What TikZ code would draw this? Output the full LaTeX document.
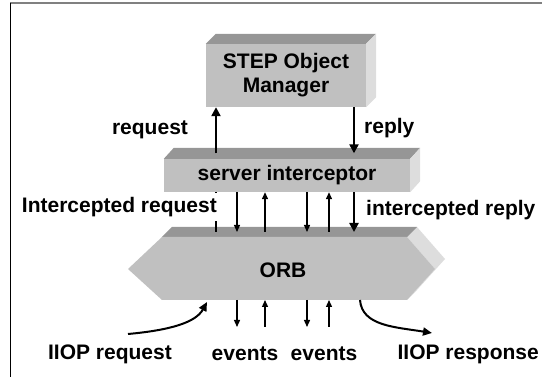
\documentclass[tikz,border=0pt]{standalone}
\usepackage{fontspec}
\setmainfont{Liberation Sans}
\usetikzlibrary{arrows.meta,calc}
\definecolor{faceF}{RGB}{192,192,192}
\definecolor{faceT}{RGB}{150,150,150}
\definecolor{faceS}{RGB}{221,221,221}
\definecolor{rulegray}{RGB}{128,128,128}
\tikzset{
  txt/.style={font=\bfseries\fontsize{21}{24}\selectfont},
  front/.style={txt, fill=faceF, draw=none, inner sep=0pt, align=center},
  lbl/.style={txt, inner sep=0pt},
  bigarrow/.style={line width=2.4pt, -{Triangle[length=9pt,width=9pt]}},
  thinarrow/.style={line width=1.3pt, -{Triangle[length=7pt,width=6pt]}},
  curvearrow/.style={line width=2pt, -{Triangle[length=9pt,width=8pt]}},
}
\begin{document}
\begin{tikzpicture}[x=1pt,y=-1pt]
\useasboundingbox (0,0) rectangle (542,377);

% frame lines
\draw[rulegray, line width=2pt] (10,3.5) -- (542,3.5);
\draw[black, line width=1pt] (10.5,3) -- (10.5,377);

% STEP Object Manager block
\node[front, minimum width=160pt, minimum height=63pt] (step) at (286,75.5) {STEP Object\\Manager};
\fill[faceT] (step.north west) -- ++(10,-10) -- ($(step.north east)+(10,-10)$) -- (step.north east) -- cycle;
\fill[faceS] (step.north east) -- ++(10,-10) -- ($(step.south east)+(10,-10)$) -- (step.south east) -- cycle;

% server interceptor block
\node[front, minimum width=246pt, minimum height=33pt] (srv) at (287,175.5) {server interceptor};
\fill[faceT] (srv.north west) -- ++(10,-11) -- ($(srv.north east)+(10,-11)$) -- (srv.north east) -- cycle;
\fill[faceS] (srv.north east) -- ++(10,-11) -- ($(srv.south east)+(10,-11)$) -- (srv.south east) -- cycle;

% ORB hexagonal block
\coordinate (oL)  at (128,269);
\coordinate (oTL) at (162,237);
\coordinate (oTR) at (407,237);
\coordinate (oR)  at (435,269);
\coordinate (oBR) at (407,300);
\coordinate (oBL) at (162,300);
\fill[faceS] (oTR) -- ++(10,-10) -- ($(oR)+(10,-10)$) -- ($(oBR)+(10,-10)$) -- (oBR) -- (oR) -- cycle;
\fill[faceT] (oTL) -- ++(10,-10) -- ($(oTR)+(10,-10)$) -- (oTR) -- cycle;
\fill[faceF] (oL) -- (oTL) -- (oTR) -- (oR) -- (oBR) -- (oBL) -- cycle;
\node[lbl] (orb) at (283,270) {ORB};

% reference levels and arrow columns
\coordinate (srvtop) at ($(srv.north)+(0,-5.5)$);
\coordinate (orbtop) at ($(oTL)+(0,-5)$);
\coordinate (evlo) at (0,327);
\coordinate (xa) at (216,0);
\coordinate (xb) at (237,0);
\coordinate (xc) at (265,0);
\coordinate (xd) at (307,0);
\coordinate (xe) at (329,0);
\coordinate (xf) at (354,0);

% STEP <-> server interceptor
\draw[bigarrow] (srvtop -| xa) -- (step.south -| xa);
\draw[bigarrow] (step.south -| xf) -- (srvtop -| xf);

% server interceptor <-> ORB
\draw[line width=2.4pt] (orbtop -| xa) -- (srv.south -| xa);
\draw[thinarrow] (srv.south -| xb) -- (orbtop -| xb);
\draw[thinarrow] (orbtop -| xc) -- (srv.south -| xc);
\draw[thinarrow] (srv.south -| xd) -- (orbtop -| xd);
\draw[thinarrow] (orbtop -| xe) -- (srv.south -| xe);
\draw[bigarrow] (srv.south -| xf) -- (orbtop -| xf);

% events below ORB
\draw[thinarrow] (oBL -| xb) -- (evlo -| xb);
\draw[thinarrow] (evlo -| xc) -- (oBL -| xc);
\draw[thinarrow] (oBL -| xd) -- (evlo -| xd);
\draw[thinarrow] (evlo -| xe) -- (oBL -| xe);

% IIOP request / response
\coordinate (reqstart) at (128,334);
\coordinate (reqend) at (207,302);
\coordinate (respstart) at (360,300);
\coordinate (respend) at (432,333);
\draw[curvearrow] (reqstart) .. controls (172,330) and (196,322) .. (reqend);
\draw[curvearrow] (respstart) .. controls (362,326) and (395,327) .. (respend);

% labels
\node[lbl] (lreq) at (150,130) {request};
\node[lbl, anchor=west] (lrep) at (364,128) {reply};
\node[txt, fill=white, inner sep=4pt, anchor=east] (lireq) at (221,207) {Intercepted request};
\node[lbl, anchor=west] (lirep) at (366,210) {intercepted reply};
\node[lbl] (liiopq) at (110,354) {IIOP request};
\node[lbl] (lev1) at (245,354) {events};
\node[lbl] (lev2) at (324,354) {events};
\node[lbl, anchor=east] (liiopr) at (539,354) {IIOP response};
\end{tikzpicture}
\end{document}
